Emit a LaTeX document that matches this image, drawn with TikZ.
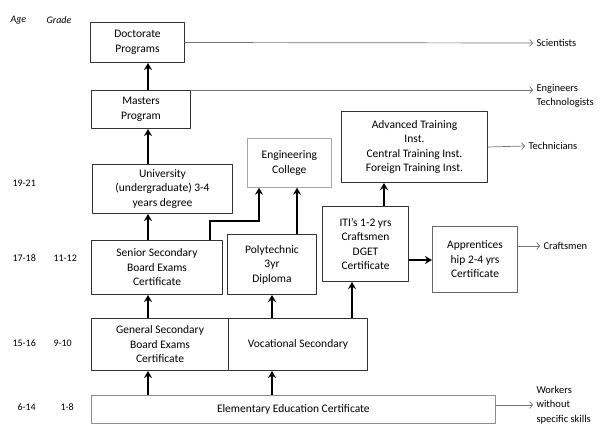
\documentclass[tikz,border=0pt]{standalone}
\usepackage{fontspec}
\setmainfont{Carlito}
\usetikzlibrary{arrows.meta}

\begin{document}
\begin{tikzpicture}[x=1pt, y=-1pt, line cap=round, line join=round,
  box/.style={draw=black!80, line width=1pt, anchor=north west, align=center,
    inner sep=0pt, font=\fontsize{11.5}{14.5}\selectfont},
  lightbox/.style={box, draw=black!35, line width=0.7pt},
  uparr/.style={line width=1.8pt, line cap=butt, -{Stealth[length=7pt,width=8pt]}},
  outarr/.style={draw=black!55, line width=0.7pt, -{Straight Barb[length=3pt,width=7pt]}},
  lbl/.style={font=\fontsize{10.5}{14.5}\selectfont, anchor=west, align=left},
  age/.style={font=\fontsize{10}{12}\selectfont, anchor=west}]

% Fix the page size
\useasboundingbox (0,0) rectangle (608,426);

% Column positions of the vertical arrows
\coordinate (c1) at (148,0);
\coordinate (c2) at (272,0);
\coordinate (c3) at (352,0);
\coordinate (c4) at (210,0);
\coordinate (c5) at (259,0);
\coordinate (c6) at (297,0);
\coordinate (c7) at (384,0);
\coordinate (c8) at (0,260);

% Age and grade column
\node[age, font=\fontsize{10}{12}\selectfont\itshape] (agehd) at (7,20) {Age};
\node[age, font=\fontsize{10}{12}\selectfont\itshape] (gradehd) at (43,20) {Grade};
\node[age] (a1) at (9,183) {19-21};
\node[age] (a2) at (9,258) {17-18};
\node[age] (g2) at (50,258) {11-12};
\node[age] (a3) at (9,343) {15-16};
\node[age] (g3) at (50,343) {9-10};
\node[age] (a4) at (14,407) {6-14};
\node[age] (g4) at (57,407) {1-8};

% Boxes
\node[box, minimum width=94, minimum height=40] (doct) at (90,22) {Doctorate\\Programs};
\node[box, minimum width=99, minimum height=38] (masters) at (91,90) {Masters\\Program};
\node[box, minimum width=140, minimum height=49] (univ) at (92,164) {University\\(undergraduate) 3-4\\years degree};
\node[box, minimum width=131, minimum height=54] (senior) at (91,240) {Senior Secondary\\Board Exams\\Certificate};
\node[lightbox, minimum width=84, minimum height=49] (engcol) at (247,138) {Engineering\\College};
\node[box, minimum width=89, minimum height=60] (poly) at (227,234) {Polytechnic\\3yr\\Diploma};
\node[box, minimum width=146, minimum height=71] (adv) at (341,111) {Advanced Training\\Inst.\\Central Training Inst.\\Foreign Training Inst.};
\node[box, minimum width=86, minimum height=75] (iti) at (322,206) {ITI's 1-2 yrs\\Craftsmen\\DGET\\Certificate};
\node[box, draw=black!60, minimum width=85, minimum height=66] (appr) at (432,226) {Apprentices\\hip 2-4 yrs\\Certificate};
\node[box, minimum width=137, minimum height=52] (gen) at (91,318) {General Secondary\\Board Exams\\Certificate};
\node[box, minimum width=139, minimum height=52] (voc) at (228,318) {Vocational Secondary};
\node[lightbox, draw=black!45, minimum width=404, minimum height=28] (elem) at (91,395) {Elementary Education Certificate};

% Outcomes
\node[lbl] (sci) at (533,43) {Scientists};
\node[lbl] (engr) at (533,96) {Engineers\\Technologists};
\node[lbl] (tech) at (525,146) {Technicians};
\node[lbl] (craft) at (540,246) {Craftsmen};
\node[lbl] (work) at (533,405) {Workers\\without\\specific skills};

% Progression arrows
\draw[uparr] (masters.north -| c1) -- (doct.south -| c1);
\draw[uparr] (univ.north -| c1) -- (masters.south -| c1);
\draw[uparr] (senior.north -| c1) -- (univ.south -| c1);
\draw[uparr] (gen.north -| c1) -- (senior.south -| c1);
\draw[uparr] (elem.north -| c1) -- (gen.south -| c1);
\draw[uparr] (elem.north -| c2) -- (voc.south -| c2);
\draw[uparr] (voc.north -| c2) -- (poly.south -| c2);
\draw[uparr] (voc.north -| c3) -- (iti.south -| c3);
\draw[uparr, line join=miter] (senior.north -| c4) -- ++(0,-19) -| (engcol.south -| c5);
\draw[uparr] (poly.north -| c6) -- (engcol.south -| c6);
\draw[uparr] (iti.north -| c7) -- (adv.south -| c7);
\draw[uparr] (iti.east |- c8) -- (appr.west |- c8);

% Arrows to outcomes
\draw[outarr] (doct.east) -- (sci.west);
\draw[outarr] (masters.north east) -- (masters.north east -| engr.west);
\draw[outarr] (adv.east) -- (tech.west);
\draw[outarr] (appr.east |- craft.west) -- (craft.west);
\draw[outarr] (elem.east |- work.west) -- (work.west);

\end{tikzpicture}
\end{document}
